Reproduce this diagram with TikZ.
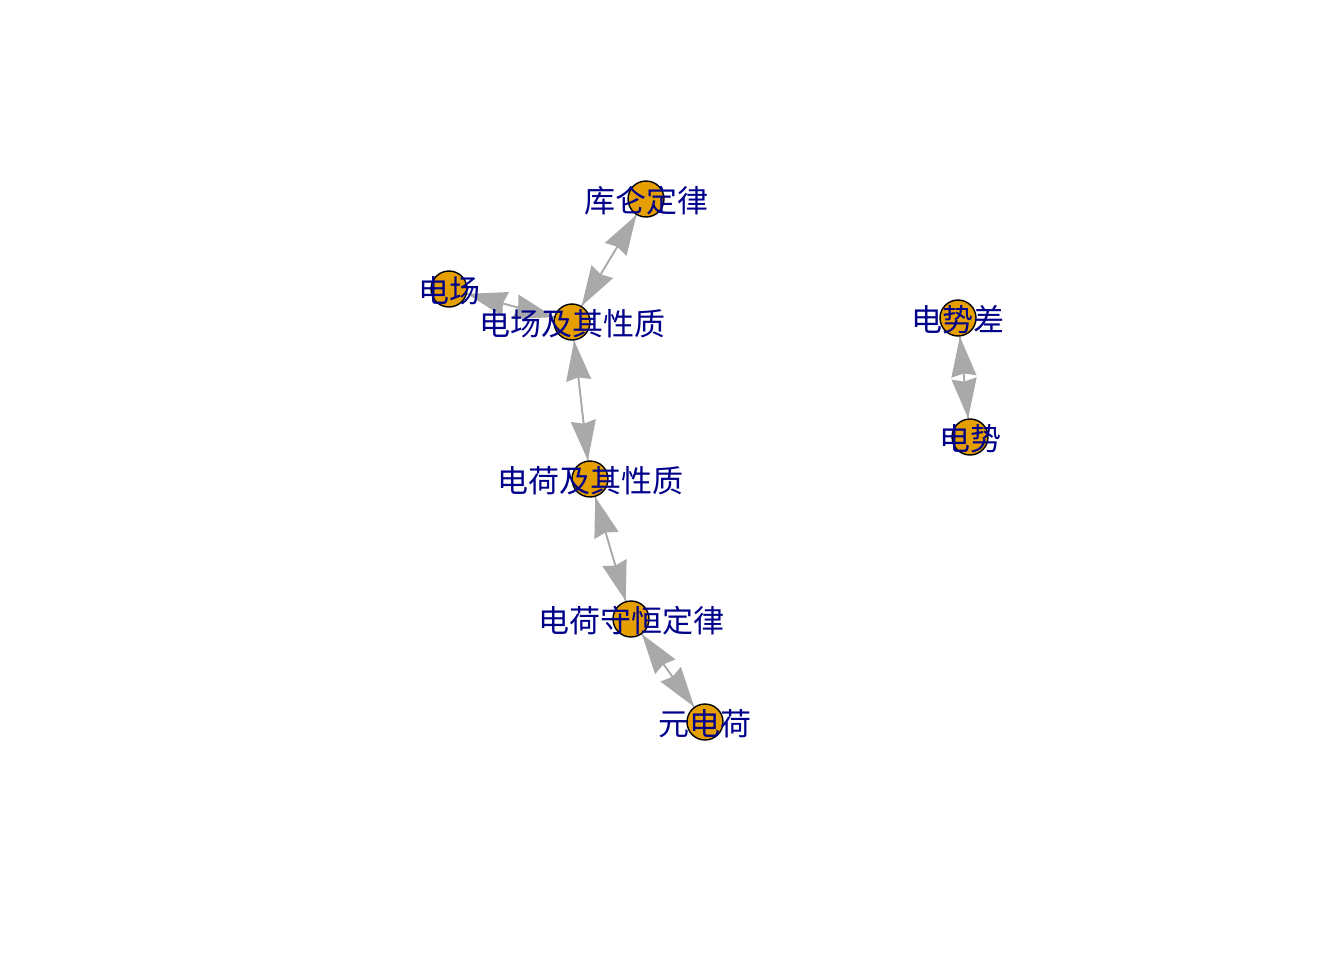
\documentclass[tikz,border=0pt]{standalone}
\usepackage{fontspec}
\newfontfamily\cjk{Noto Sans CJK SC}
\usetikzlibrary{arrows.meta}
\pgfdeclarelayer{background}
\pgfsetlayers{background,main}
\definecolor{vfill}{RGB}{230,159,0}
\definecolor{edgegray}{RGB}{169,169,169}
\definecolor{labblue}{RGB}{0,0,139}
\tikzset{
  vert/.style={circle, draw=black, line width=1.4bp, fill=vfill, minimum size=36bp, inner sep=0pt},
  lab/.style={text=labblue, font=\cjk\fontsize{31bp}{36bp}\selectfont, inner sep=0pt},
  edge/.style={draw=edgegray, line width=1.6bp, -{Stealth[length=40bp,width=25bp,inset=3bp]}},
}
\begin{document}
\begin{tikzpicture}[x=1bp,y=-1bp]
\path[use as bounding box] (0,0) rectangle (1344,960);
\node[vert] (kl) at (646,199) {};
\node[vert] (dc) at (449,289) {};
\node[vert] (dcx) at (572,322) {};
\node[vert] (dhx) at (590,479) {};
\node[vert] (dhs) at (631,619) {};
\node[vert] (ydh) at (705,722) {};
\node[vert] (dsc) at (958,318) {};
\node[vert] (ds) at (970,437) {};
\begin{pgfonlayer}{background}
\draw[edge] (dcx) -- (kl);
\draw[edge] (kl) -- (dcx);
\draw[edge] (dcx) -- (dc);
\draw[edge] (dc) -- (dcx);
\draw[edge] (dcx) -- (dhx);
\draw[edge] (dhx) -- (dcx);
\draw[edge] (dhx) -- (dhs);
\draw[edge] (dhs) -- (dhx);
\draw[edge] (dhs) -- (ydh);
\draw[edge] (ydh) -- (dhs);
\draw[edge] (dsc) -- (ds);
\draw[edge] (ds) -- (dsc);
\end{pgfonlayer}
\node[lab] (lkl) at ([yshift=-2bp]kl) {库仑定律};
\node[lab] (ldc) at ([yshift=-2bp]dc) {电场};
\node[lab] (ldcx) at ([yshift=-2bp]dcx) {电场及其性质};
\node[lab] (ldhx) at ([yshift=-2bp]dhx) {电荷及其性质};
\node[lab] (ldhs) at ([yshift=-2bp]dhs) {电荷守恒定律};
\node[lab] (lydh) at ([yshift=-2bp]ydh) {元电荷};
\node[lab] (ldsc) at ([yshift=-2bp]dsc) {电势差};
\node[lab] (lds) at ([yshift=-2bp]ds) {电势};
\end{tikzpicture}
\end{document}
